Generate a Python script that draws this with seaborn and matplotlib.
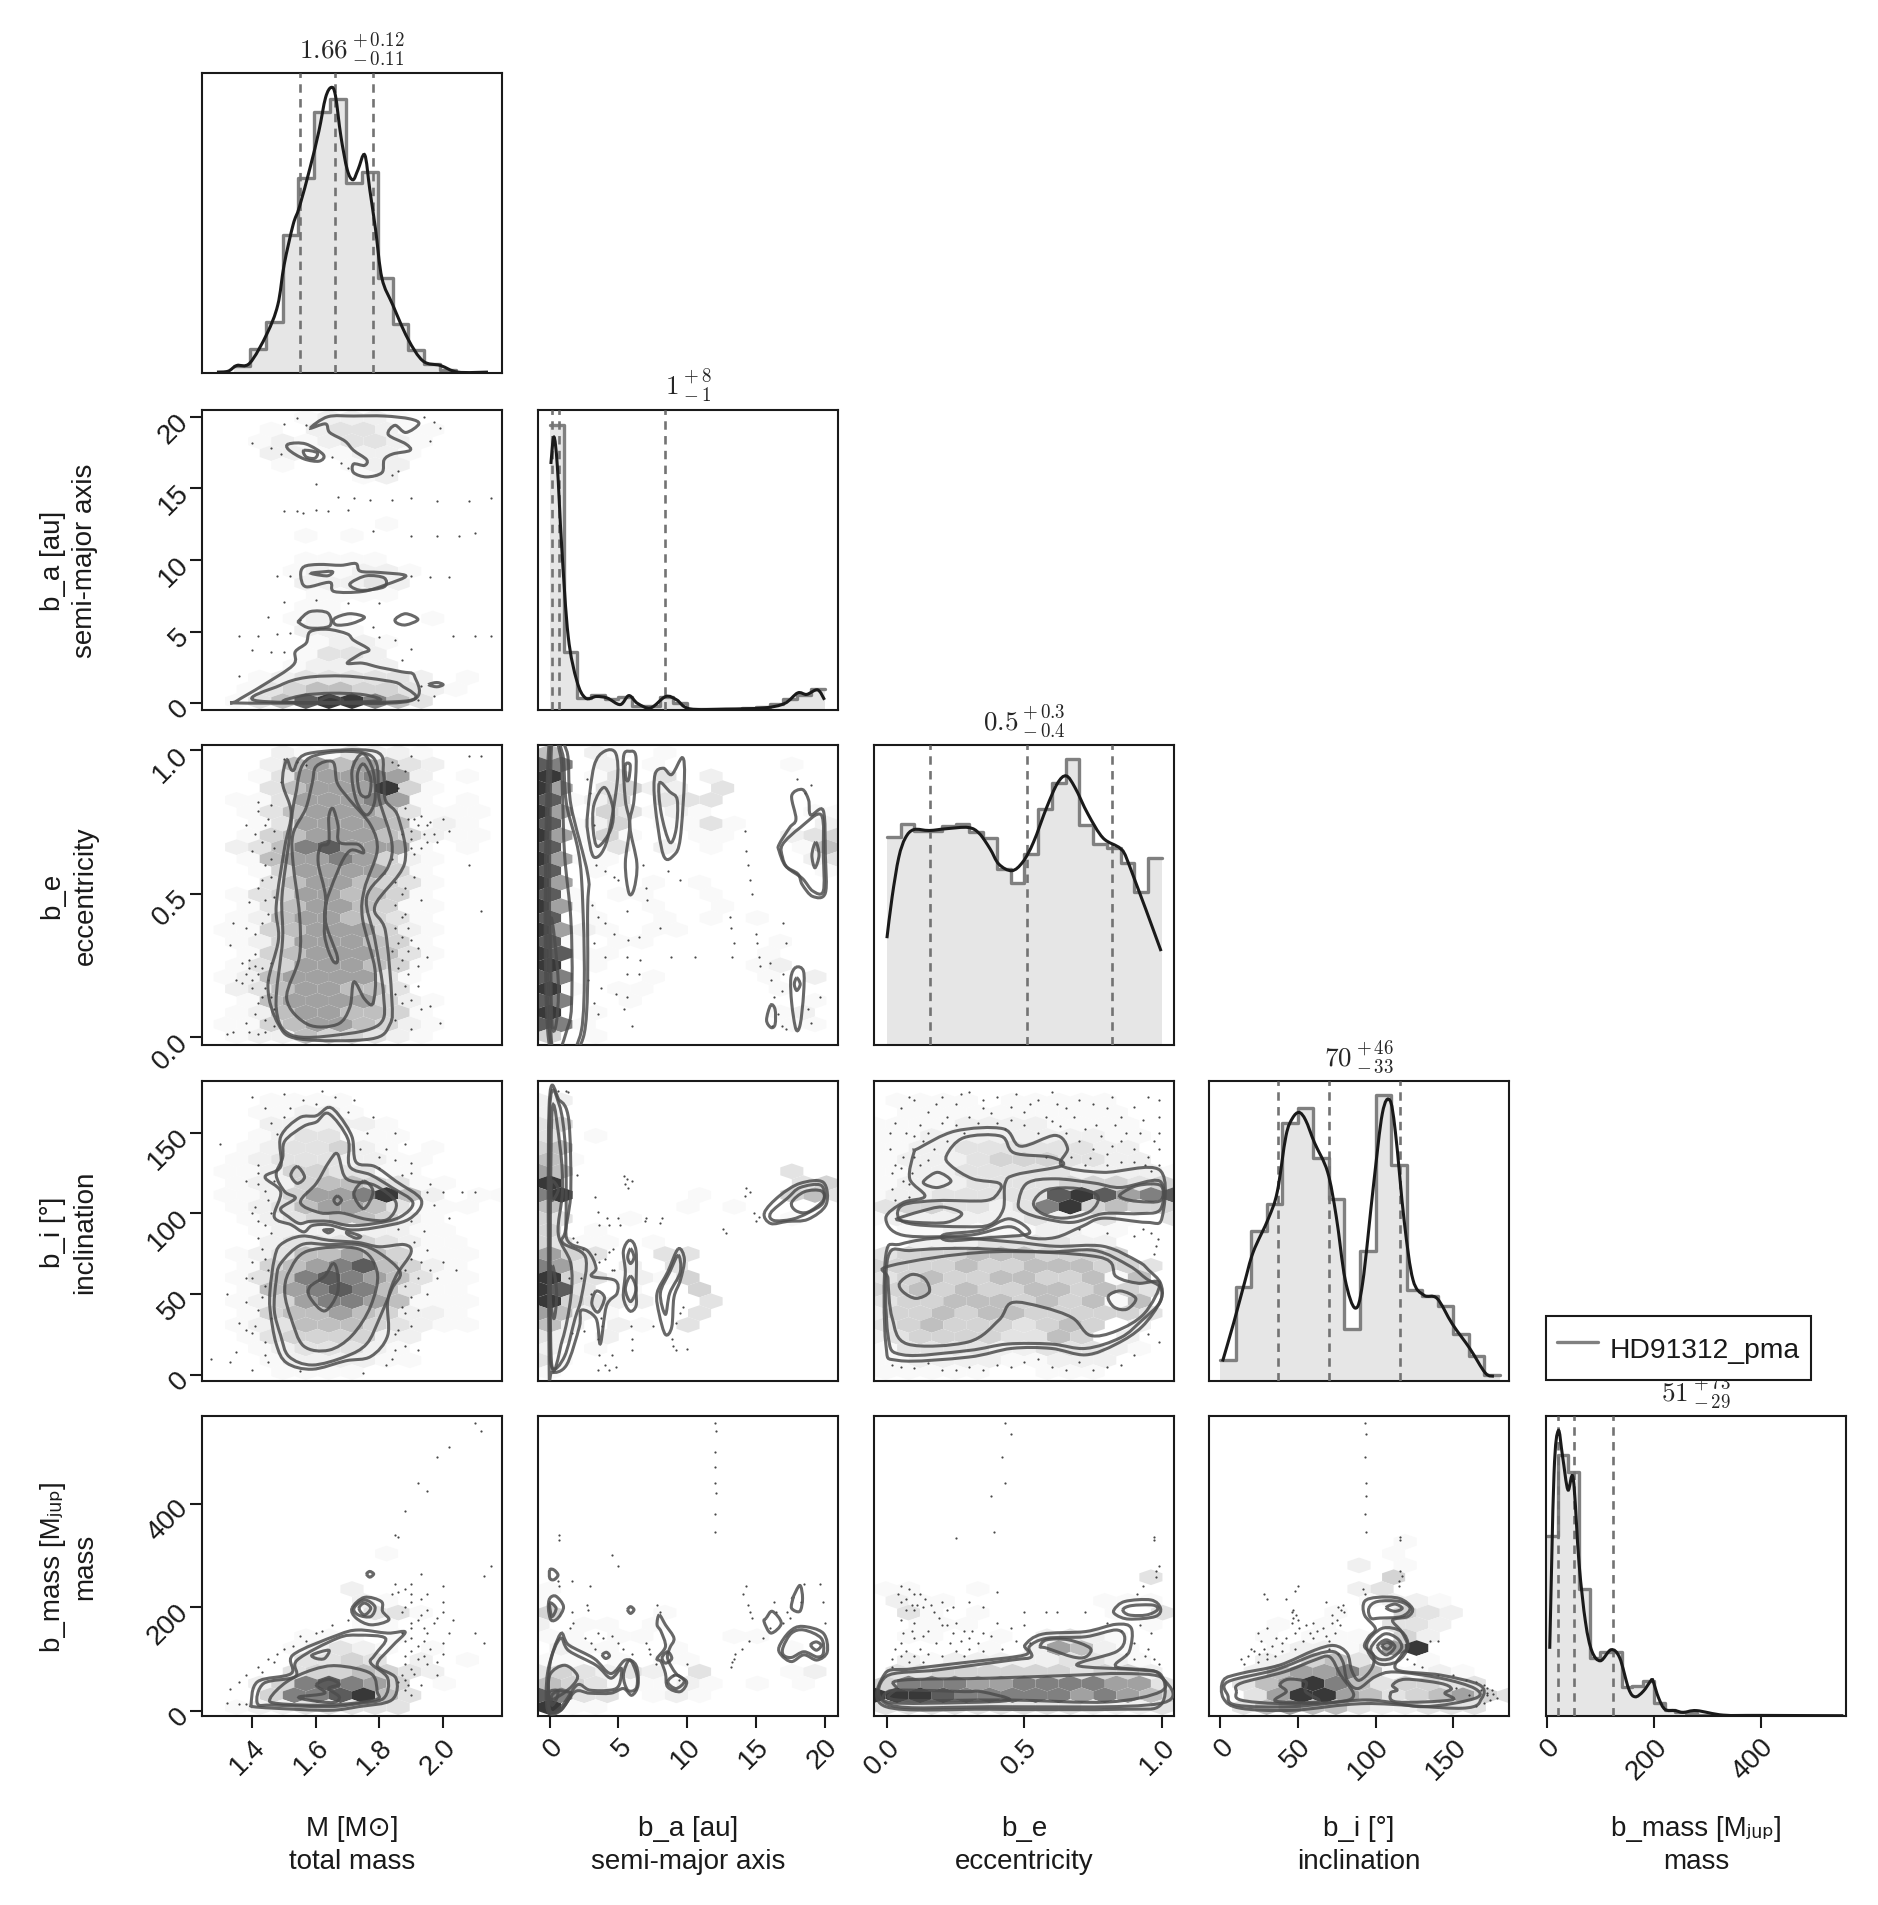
import numpy as np
import seaborn as sns
import matplotlib
matplotlib.use('Agg')
import matplotlib.pyplot as plt
from matplotlib.collections import PolyCollection
from matplotlib.lines import Line2D
from matplotlib.path import Path
from matplotlib.patches import PathPatch

# ---- 1D data: histogram edges, relative heights, smooth curve, quantiles
m_edges = [1.345,1.395,1.445,1.497,1.545,1.595,1.645,1.695,1.745,1.795,1.842,1.89,1.94,1.99,2.04]
m_hist = [.025,.08,.17,.46,.65,.87,.913,.634,.67,.316,.164,.078,.03,.01]
m_kde_x = [1.29,1.325,1.352,1.393,1.447,1.481,1.501,1.529,1.549,1.583,1.61,1.631,1.649,1.662,1.679,1.699,1.717,1.733,1.754,1.77,1.788,1.808,1.842,1.889,1.937,1.992,2.046,2.141]
m_kde_y = [.003,.006,.025,.033,.131,.227,.361,.494,.554,.687,.806,.918,.952,.925,.79,.678,.644,.678,.727,.61,.478,.316,.227,.115,.04,.025,.003,.003]
m_q = [1.55,1.66,1.78]

a_edges = list(range(21))
a_hist = [.95,.194,.04,.05,.037,.045,.015,.015,.045,.025,.003,.002,.002,.004,.006,.01,.02,.037,.05,.07]
a_kde_x = [0.08,.3,.55,.87,1.34,1.97,2.6,3.39,4.18,5.13,5.76,6.39,7.34,8.44,9.23,10.18,12.8,15.6,17.1,18.05,18.7,19.5,20.0]
a_kde_y = [.82,.91,.813,.543,.246,.097,.04,.045,.04,.018,.048,.022,.007,.045,.034,.004,.003,.007,.022,.057,.052,.067,.034]
a_q = [0.15,0.7,8.4]

e_edges = [0,.05,.1,.15,.2,.25,.3,.35,.4,.45,.5,.55,.6,.65,.7,.75,.8,.85,.9,.95,1.0]
e_hist = [.695,.738,.715,.715,.73,.737,.71,.69,.586,.54,.637,.788,.872,.955,.734,.669,.658,.608,.51,.625]
e_kde_x = [0,.019,.043,.067,.098,.154,.217,.296,.336,.375,.407,.454,.494,.533,.581,.62,.652,.684,.731,.786,.85,.881,.997]
e_kde_y = [.356,.494,.625,.69,.718,.715,.721,.725,.705,.654,.603,.581,.61,.676,.792,.872,.897,.858,.77,.69,.654,.6,.313]
e_q = [.155,.508,.817]

i_edges = list(range(0,190,10))
i_hist = [.07,.313,.5,.59,.861,.909,.742,.608,.173,.435,.954,.721,.303,.283,.25,.158,.083,.019]
i_kde_x = [1.4,8.5,15.5,21.2,31,36.7,42.3,46.5,50.8,55,60.7,69.1,74.7,80.4,86.9,91.7,98.7,104.4,109.2,112.8,118.5,124.1,131.2,139.7,149.5,160.8,170.7,176.3]
i_kde_y = [.065,.192,.326,.43,.542,.631,.817,.876,.895,.869,.794,.697,.548,.339,.243,.327,.653,.892,.936,.83,.532,.338,.286,.275,.19,.108,.027,.016]
i_q = [37,70,116]

mass_edges = [0,20,40,60,80,100,120,140,160,180,200,220,240,260,280,320]
mass_hist = [.6,.869,.813,.425,.194,.212,.212,.097,.10,.116,.045,.02,.015,.01,.003]
mass_kde_x = [5,13,21,29,39,49,60,72,84,100,120,136,153,165,180,195,198,209,221,240,255,280,330,400,555]
mass_kde_y = [.224,.806,.951,.866,.754,.791,.507,.313,.216,.184,.221,.194,.09,.064,.082,.119,.119,.06,.022,.018,.012,.018,.003,.002,.001]
mass_q = [21,51,123]

# ---- hex cell densities, one string per row, top row first
ma_hex = ["......1222211.....","....1.223322111...","...12.12233221....","...1221.12221.....","....11...1221.....",".........122......","","","",".......1..11......",".....11.11........","","......11111.......",".....12212221.....",".....12222321.....","......111111......",".....1111.........",".....1211.1..11...",".....22211........","......1222.1......","......13232.......",".....1222222......","...12233433322.1..","..12345554443211..","..135789997553...."]
me_hex = ["....2311232211....","...12565565532....","...13566567652.1..","...13566669941....","..113566667631.1..","..123565666531211.",".1.13566666541211.","..124566667542211.",".1235678866631.1..","..125667766421....","...14566666421....","...135666554311...","..134566655411....","..113566655411....",".1125566654311....",".1124566665421....","..124566665421....","..124566666531....","..134566665431....",".123566666531.....",".123566675531.....","..135667665421....","..125666655421....",".11245666554211...",".1122454543211...."]
ae_hex = ["57.21..1..........","87.22.1........1..","96.132.3..2.......","96.1342.2.13......","861242.3.33.....1.","96.1431.212.....11","861242.1.131....12","961141.2.121...234","86.131.2..1....145","961.1..1........23","87.1.1......1...11","96.1..1..1........","871.1.1...1.......","961...1....1......","87.1.1.1..1..1....","962.1.1.1.....1...","871.1.1.......1...","981.1..1.....11...","97.1.1.......12...","87.1..1......12.2.","971.1.1.......1.3.","87.1.1........1.1.","97.1..........12..","871...........111.","42.1.............."]
mi_hex = ["","....11111.........","...1122211........","...1222222.1......","...1233321111.....","..1123344221.1....",".1123333222111....",".112244433211.....",".11224456543211...",".11224666799521.11","..12335656532111..","..1223445544211...","...122222222111...","...1233434432111..","..12345566542111..","..13456778654211..","..13567887653311..","..13567887653111..","..12456777652111..","..12455665542211..","..12345555432211..","..12344444422.1...","...1233333211.....","...1122222211.....","....111111........"]
ai_hex = ["","22","23","34","34.1","45","541","65.............3","96...1.........354","79.2.....1.....453","55.......1.1...","43.1.1.1.......1","43.1","431.1.1","6543.1.3.3","7632.2.13.3","98431.21.4","9832.1.2.4","97432.2.1.3","65211..3.3","532.2.1.13","32..2..1","21.1.1","31.1","1"]
ei_hex = ["",".11111.11111111...",".11111111111111.1.","1111122222211111..","1112222222222211..","1122233333333222..","1122233444433322..","112223343333222221","122223333334344334","122333333358984678","334433323379945454","1222222223222331.3","..1122111122211...","..2222333323222...","334444555544444...","44444545454554543.","34454545454445156.","44554545454545443.","33445555445455153.","24445454545444143.","34454444434554.2..","2344444433454.32..","1233333222333321..","112222221122222...","1111111.1.1111...."]
em_hex = ["","","","","","","","","","","................1.","","","................3.","1.1..11.........1.",".2131........1.11.",".131..1.......1.43","..1211.1......1.1.","..11.1.11.23321...","......11.2565211..",".2212222222333211.",".3334444444434442.","467777666777776653","999887777777676654","333333333333322223"]
ii_hex = ["","","","","","","","","","","...........12.....","...........1......",".........2.1......","..........34......",".........23.......",".........1.2211...",".....1.1...4432...","...11.1....332....","...1.11121.452....","...1122212.69.1...","...22345432.71....","..235667752112.1..",".235699765345433..","..3569986543456643",".2356655532223333."]
mm_hex = ["","","","","","","","","","","","...........1......","","",".........2........",".........2.1......","........1.33.1....",".........1.1......","......1111.1......",".....1233221.1....",".....233343.22.1..",".....3444544321...","...2467887642.1...","...2477989653.....","..12243343331....."]
am_hex = ["","","","","","","","","","","","","","","1.................","1.................","42.....1..........","2.1.1.1...........","1.1.1.1....1.1....",".21.1...1.1....1..","1.1.11.1.1......2.","34332322.32....12.","56431111.21..1.1..","873.3.1.21........","9511.1............"]

# ---- density contours, closed loops in data units
ma_lines = [
 [(1.583,19.2),(1.638,20),(1.719,20.05),(1.815,20.05),(1.896,19.85),(1.924,19.5),(1.883,18.9),(1.849,19.4),(1.828,18.75),(1.883,18.1),(1.896,17.65),(1.842,17.4),(1.815,17.0),(1.808,16.1),(1.76,15.8),(1.719,16.1),(1.719,16.7),(1.753,16.6),(1.76,17.0),(1.719,17.65),(1.692,18.3),(1.644,18.9),(1.631,19.5)],
 [(1.515,18.1),(1.569,18.1),(1.624,17.35),(1.611,16.9),(1.563,17.06),(1.515,17.7)],
 [(1.563,17.65),(1.604,17.5),(1.597,17.1),(1.57,17.2)],
 [(1.563,9.53),(1.61,9.69),(1.679,9.63),(1.726,9.75),(1.74,9.22),(1.801,9.13),(1.883,8.9),(1.821,8.28),(1.747,7.8),(1.658,7.8),(1.644,8.44),(1.57,8.13),(1.553,8.9)],
 [(1.712,8.44),(1.76,8.9),(1.815,8.75),(1.815,8.13),(1.747,7.88),(1.712,8.13)],
 [(1.59,9.1),(1.651,9.2),(1.638,8.9),(1.597,9.0)],
 [(1.549,5.8),(1.583,6.4),(1.638,6.3),(1.644,5.4),(1.583,5.25),(1.549,5.6)],
 [(1.658,5.9),(1.706,6.25),(1.753,6.0),(1.712,5.56),(1.665,5.47)],
 [(1.851,5.9),(1.883,6.25),(1.921,5.85),(1.883,5.47),(1.855,5.6)],
 [(1.352,.16),(1.434,1.25),(1.529,2.66),(1.536,3.6),(1.57,4.2),(1.583,5),(1.638,5.16),(1.699,4.84),(1.719,4.4),(1.767,3.75),(1.74,3.44),(1.699,2.8),(1.747,2.8),(1.801,2.5),(1.869,2.2),(1.91,1.9),(1.896,.16),(1.583,.02),(1.352,.02)],
 [(1.42,.16),(1.488,1.25),(1.57,1.8),(1.692,1.9),(1.815,1.6),(1.869,1.25),(1.883,.16)],
 [(1.5,.1),(1.56,.55),(1.65,.7),(1.75,.6),(1.8,.2),(1.65,.05)],
 [(1.61,.1),(1.644,.47),(1.685,.2),(1.651,.02)],
 [(1.955,1.3),(1.98,1.45),(2.0,1.3),(1.98,1.15)],
]
me_lines = [
 [(1.509,.967),(1.529,.93),(1.575,.989),(1.786,.997),(1.813,.916),(1.819,.827),(1.859,.768),(1.879,.606),(1.786,.458),(1.819,.37),(1.839,.134),(1.833,.045),(1.773,-.006),(1.549,-.006),(1.483,.045),(1.45,.178),(1.483,.34),(1.476,.458),(1.503,.665),(1.523,.783),(1.496,.886)],
 [(1.536,.842),(1.582,.975),(1.773,.982),(1.8,.827),(1.839,.68),(1.826,.591),(1.76,.488),(1.786,.34),(1.813,.149),(1.8,.045),(1.668,.008),(1.523,.008),(1.476,.104),(1.496,.34),(1.494,.488),(1.516,.68)],
 [(1.602,.945),(1.654,.96),(1.668,.886),(1.707,.827),(1.773,.739),(1.793,.65),(1.753,.517),(1.747,.414),(1.786,.237),(1.78,.119),(1.753,.134),(1.72,.193),(1.707,.104),(1.668,.045),(1.575,.045),(1.509,.134),(1.549,.281),(1.549,.429),(1.529,.606),(1.529,.709),(1.569,.798),(1.589,.886)],
 [(1.641,.768),(1.654,.798),(1.67,.739),(1.674,.68),(1.734,.672),(1.75,.643),(1.707,.65),(1.668,.576),(1.628,.429),(1.668,.281),(1.654,.267),(1.628,.355),(1.631,.488),(1.608,.606),(1.615,.665),(1.641,.68)],
 [(1.747,.989),(1.78,.93),(1.786,.827),(1.76,.775),(1.727,.827),(1.714,.93)],
 [(1.75,.953),(1.773,.901),(1.767,.842),(1.74,.849),(1.731,.916)],
]
ae_lines = [
 [(-.09,1.0),(1.22,1.0),(1.53,.812),(2.76,.569),(2.76,.458),(2.45,.001),(-.09,-.008)],
 [(0,.99),(.92,.99),(1.22,.812),(2.3,.562),(2.3,.023),(0,.008)],
 [(.1,.985),(.77,.985),(.92,.856),(1.08,.635),(1.53,.414),(1.62,.193),(1.38,.045),(.1,.001)],
 [(.1,.414),(.62,.193),(.46,.045),(.15,.06)],
 [(2.76,.783),(3.22,.945),(3.98,.997),(4.81,.989),(4.9,.886),(4.13,.68),(3.22,.628),(2.76,.718)],
 [(3.22,.812),(3.98,.871),(4.6,.798),(4.44,.724),(3.5,.665),(3.16,.724)],
 [(5.36,.975),(5.82,.997),(6.28,.975),(6.13,.827),(5.82,.739),(6.34,.606),(6.13,.517),(5.76,.503),(5.5,.606),(5.82,.739),(5.5,.827)],
 [(5.5,.95),(5.85,.95),(5.75,.9),(5.55,.9)],
 [(7.66,.916),(8.27,.938),(8.88,.916),(9.65,.975),(9.8,.901),(9.5,.694),(9.04,.635),(8.27,.635),(7.66,.812)],
 [(7.97,.886),(8.73,.856),(9.28,.827),(9.19,.724),(8.73,.68),(8.1,.783)],
 [(16.69,.672),(17.46,.731),(17.92,.761),(17.61,.842),(18.38,.864),(18.84,.827),(18.99,.775),(19.91,.79),(20.06,.635),(20.06,.503),(19.14,.491),(18.38,.532),(18.07,.569),(17.15,.598),(16.69,.65)],
 [(16.94,.672),(18.23,.731),(19.76,.775),(19.91,.635),(19.91,.51),(19.14,.51),(18.38,.554),(17.3,.591),(16.94,.628)],
 [(19.36,.68),(19.6,.635),(19.3,.591),(19.08,.635)],
 [(17.92,.244),(18.47,.23),(18.47,.149),(18.23,.045),(17.92,.028),(17.61,.119),(17.55,.207)],
 [(16.08,.112),(16.4,.097),(16.4,.045),(16.1,.034),(15.78,.06)],
 [(17.98,.207),(18.23,.185),(17.98,.163),(17.8,.185)],
]
mi_lines = [
 [(1.641,165.7),(1.674,160.5),(1.714,147.4),(1.727,131.7),(1.786,129),(1.852,119.9),(1.932,108.1),(1.892,96.3),(1.786,91.1),(1.707,89.8),(1.641,92.9),(1.589,92.4),(1.562,88.5),(1.523,92.9),(1.47,97.7),(1.49,113.4),(1.441,122.5),(1.49,129),(1.49,147.4),(1.549,159.2),(1.602,160.5)],
 [(1.641,161.8),(1.701,146.1),(1.707,129),(1.773,123.8),(1.839,116),(1.905,106.8),(1.865,97.7),(1.786,93.7),(1.707,92.4),(1.641,95),(1.582,95),(1.549,93.7),(1.516,97.7),(1.49,102.9),(1.536,109.4),(1.503,113.4),(1.476,123.8),(1.496,134.3),(1.503,144.8),(1.562,153.9),(1.602,156.6)],
 [(1.668,136.9),(1.688,123.8),(1.714,119.9),(1.786,117.3),(1.852,106.8),(1.826,96.3),(1.76,96.3),(1.681,100.3),(1.615,100.3),(1.552,106.8),(1.602,118.6),(1.641,131.7)],
 [(1.542,129),(1.565,122.5),(1.542,118.6),(1.522,123.8)],
 [(1.751,119.9),(1.78,113.4),(1.751,102.9),(1.72,112)],
 [(1.668,110.7),(1.681,108.1),(1.668,105.5),(1.657,108.1)],
 [(1.47,71.5),(1.49,80.6),(1.556,85.9),(1.641,83.3),(1.734,81.9),(1.8,79.3),(1.879,80.6),(1.899,75.4),(1.852,61),(1.826,45.3),(1.826,24.3),(1.773,11.3),(1.694,8.6),(1.589,3.4),(1.509,7.3),(1.476,19.1),(1.457,40),(1.457,53.1)],
 [(1.49,68.9),(1.556,80.6),(1.641,80.6),(1.734,80.6),(1.8,75.4),(1.865,63.6),(1.839,53.1),(1.8,34.8),(1.76,19.1),(1.694,11.3),(1.589,6),(1.516,11.3),(1.49,24.3),(1.47,40),(1.476,58.4)],
 [(1.516,63.6),(1.575,76.7),(1.734,78),(1.793,63.6),(1.773,42.7),(1.714,24.3),(1.641,15.2),(1.562,17.8),(1.523,34.8),(1.503,50.5)],
 [(1.654,68.9),(1.668,63.6),(1.668,50.5),(1.628,39.5),(1.582,47.9),(1.582,54.5),(1.628,61)],
 [(1.628,89.8),(1.654,89.8),(1.641,87.9),(1.628,89)],
 [(1.701,88.5),(1.74,85.9),(1.727,84.6),(1.7,87)],
]
ai_lines = [
 [(-.05,166),(.7,170),(1.38,157.9),(1.53,113.4),(1.22,84.6),(2.76,76.7),(3.37,66.2),(3.06,61),(4.75,58.4),(4.9,50.5),(4.13,42.7),(3.68,19.1),(3.37,34.8),(2.3,40),(2.15,29.6),(1.22,6),(.15,1.5),(-.05,8.6)],
 [(0,165),(.7,167),(1.14,139.5),(1.17,92.4),(.92,82),(2.6,72.8),(2.3,47.9),(1.84,34.8),(1.07,11.3),(.15,4.7),(0,34.8)],
 [(.15,160.5),(.77,139.5),(.92,113.4),(.62,87.2),(1.53,68.9),(1.53,47.9),(.92,21.7),(.1,11.3)],
 [(.15,119.9),(.62,114.7),(.15,108.1)],
 [(.2,67.5),(.5,50.5),(.3,34.8),(0,50.5)],
 [(3.37,51.8),(3.98,47.9),(3.52,38.8),(3.06,44)],
 [(5.82,83.3),(6.28,76.7),(6.28,53.1),(6.28,42.7),(5.82,39.5),(5.36,47.9),(5.5,63.6),(5.36,76.7)],
 [(5.88,78),(6.13,72.8),(5.88,68.9),(5.67,72.8)],
 [(5.88,61),(6.28,53.1),(5.88,45.3),(5.5,53.1)],
 [(9.35,78),(9.8,71.5),(9.5,58.4),(9.04,47.9),(8.88,29.6),(8.42,24.9),(7.97,37.4),(7.81,50.5),(8.58,63.6)],
 [(9.35,74),(9.5,63.6),(8.73,50.5),(8.42,37.4),(8.05,50.5),(8.73,63.6)],
 [(15.62,100.3),(16.7,110.7),(18.23,118.6),(19.91,119.2),(20.12,105.5),(18.8,96.3),(17.3,95),(16.08,93.7)],
 [(16.08,100.3),(17.3,109.4),(18.23,116),(19.76,117.3),(19.91,106.8),(18.8,100.3),(17.61,96.3),(16.3,95.6)],
 [(17.61,106.8),(18.54,113.4),(19.76,113.9),(19.91,108.1),(18.8,100.8),(17.92,101.6)],
]
ei_lines = [
 [(.098,137.5),(.114,140.2),(.249,151),(.423,152.4),(.486,141.6),(.612,148.3),(.657,140.2),(.636,129.5),(.786,125.4),(.992,126.8),(1.0,97),(.944,94.4),(.786,97),(.707,91.7),(.612,85),(.518,85),(.446,91.7),(.296,86.4),(.059,86.4),(-.004,97),(.059,106.6),(.138,110.6),(.083,121.4)],
 [(.217,136),(.28,146.9),(.415,147.8),(.462,137.5),(.597,134.8),(.636,129.5),(.47,124),(.43,118.7),(.423,102.5),(.375,93),(.28,91.7),(.106,93),(.043,97),(.059,105.2),(.185,107.9),(.359,107.9),(.407,113.3),(.407,118.7),(.312,121.4),(.233,129.5)],
 [(.138,120.8),(.185,125.4),(.233,120),(.185,116),(.138,118)],
 [(.043,97),(.122,101.2),(.201,103.9),(.272,99.8),(.217,94.4),(.106,94.4),(.043,95.8)],
 [(.478,106.6),(.51,118.7),(.612,121.4),(.755,118.7),(.85,116),(.992,120),(.995,102.5),(.913,99.8),(.786,99.8),(.675,94.4),(.565,97),(.494,101.2)],
 [(.533,106.6),(.581,114.6),(.691,115.4),(.767,110.6),(.739,101.2),(.644,97),(.565,99.8)],
 [(.85,111.9),(.913,117.3),(.995,117.3),(.995,107.9),(.913,107.4),(.858,109.3)],
 [(.209,86.9),(.343,89.6),(.446,96.6),(.518,87.7),(.375,85),(.224,83.1)],
 [(-.004,74.2),(.051,81),(.217,85),(.454,82.3),(.612,79.6),(.786,79.6),(.913,70.2),(.952,64.8),(.995,56.7),(.995,45.9),(.928,29.8),(.834,19),(.723,12.3),(.597,16.3),(.454,16.3),(.296,10.9),(.043,8.8),(-.004,19)],
 [(.004,72.9),(.09,77),(.296,78.3),(.581,76.1),(.755,77),(.881,67.5),(.944,59.4),(.995,54),(.992,44.6),(.928,33.8),(.85,23),(.723,16.3),(.597,19),(.438,19),(.296,15),(.059,12.3),(.004,24.4)],
 [(.012,67.5),(.375,76.1),(.771,72.9),(.834,60.8),(.913,56.7),(.992,56.7),(.936,37.9),(.834,27.1),(.739,24.4),(.675,35.2),(.565,41.9),(.454,44.6),(.407,33.8),(.296,20.3),(.075,19),(.019,35.2),(.004,59.4)],
 [(.046,56.7),(.09,62.1),(.138,59.4),(.154,51.3),(.106,47.3),(.059,51.3)],
 [(.805,48.6),(.85,51.9),(.905,47.3),(.873,40.6),(.826,41.9)],
]
em_lines = [
 [(-.007,72),(.09,81),(.296,94),(.502,108),(.502,127),(.565,148),(.723,153),(.834,167),(.889,159),(.881,114),(.834,85),(.992,72),(.995,11),(.85,3),(.375,3),(-.004,8)],
 [(-.004,66),(.185,79),(.454,98),(.525,104),(.518,124),(.581,140),(.723,143),(.834,156),(.865,140),(.834,114),(.691,88),(.913,79),(.992,69),(.992,14),(.375,8),(.012,11)],
 [(.035,43),(.051,59),(.375,63),(.691,69),(.85,72),(.992,66),(.995,37),(.802,17),(.438,21),(.035,21)],
 [(.003,37),(.09,40),(.28,37),(.343,37),(.446,21),(.28,16),(.011,16)],
 [(.557,124),(.581,137),(.66,137),(.739,121),(.723,104),(.676,104),(.581,121)],
 [(.826,195),(.865,211),(.96,214),(.995,198),(.976,182),(.881,177),(.834,185)],
 [(.858,195),(.889,203),(.968,204),(.984,195),(.944,185),(.881,185)],
]
im_lines = [
 [(2,59),(13,72),(38,88),(60.7,117),(73.3,126),(81.7,111),(84.5,79),(88.7,59),(94.3,69),(98.5,88),(98.5,108),(92.9,124),(95.7,143),(99.9,159),(92.9,185),(92.9,211),(101.3,219),(115.3,217),(123.7,198),(120.9,182),(111,175),(116.7,153),(120.9,124),(116.7,108),(113.9,79),(141.9,69),(167,50),(168.4,24),(155.8,5),(94.3,14),(46.7,1),(13,5),(2,24)],
 [(4.8,56),(35.5,79),(60.7,108),(73.3,114),(78.9,95),(81.7,59),(88.7,43),(99.9,66),(112.5,75),(141.9,63),(164,43),(164,24),(130.7,8),(94.3,21),(46.7,8),(10.4,11),(4.8,30)],
 [(10.4,37),(13,53),(41,75),(60.7,98),(70.5,104),(77.5,69),(85.9,30),(74.7,17),(38.3,14),(13,21)],
 [(111,50),(119.5,61),(141.9,53),(148.9,43),(144.7,34),(148.9,21),(113.9,17),(109.7,34),(113.9,40)],
 [(38.3,50),(43.9,61),(55,56),(55,37),(63.5,21),(57.9,16),(35.5,19),(42.5,37)],
 [(94.3,127),(104.1,159),(116.7,153),(120.9,124),(113.9,95),(101.3,92)],
 [(97,121),(105.5,148),(113.9,140),(116.7,121),(109.7,101),(101.3,101)],
 [(101.3,124),(106.9,137),(112.5,124),(106.9,108)],
 [(104.1,126),(107.4,132),(110.2,126),(107.4,119)],
 [(95.7,198),(101.3,211),(115.3,211),(122.3,198),(116.7,182),(102.7,179),(97,179)],
 [(106.9,199),(112.5,206),(117.2,198),(112.5,192)],
]
mm_lines = [
 [(1.397,11),(1.417,56),(1.523,72),(1.529,108),(1.668,146),(1.734,156),(1.826,150),(1.881,152),(1.839,124),(1.793,88),(1.852,63),(1.839,21),(1.734,8),(1.641,1),(1.47,5),(1.404,8)],
 [(1.417,14),(1.437,53),(1.536,66),(1.542,98),(1.668,140),(1.734,146),(1.819,140),(1.786,108),(1.773,92),(1.826,63),(1.813,24),(1.734,14),(1.641,8),(1.47,11)],
 [(1.457,24),(1.509,56),(1.589,79),(1.668,87),(1.773,72),(1.793,37),(1.786,21),(1.641,11),(1.483,14)],
 [(1.602,50),(1.641,61),(1.674,51),(1.641,43),(1.674,27),(1.654,16),(1.575,21),(1.549,27),(1.628,34)],
 [(1.589,108),(1.641,117),(1.628,101),(1.602,101)],
 [(1.714,198),(1.753,219),(1.806,211),(1.81,192),(1.829,175),(1.773,166),(1.727,179)],
 [(1.72,198),(1.753,214),(1.786,201),(1.773,182),(1.734,185)],
 [(1.736,198),(1.753,208),(1.773,198),(1.753,185)],
 [(1.76,264),(1.77,269),(1.782,264),(1.77,258)],
]
am_lines = [
 [(-.15,75),(.77,148),(1.38,127),(3.22,101),(4.44,72),(5.5,98),(6.28,88),(6.43,50),(5.97,30),(5.36,43),(4.44,34),(2.91,34),(1.84,37),(.77,0),(-.15,0)],
 [(0,88),(.77,140),(1.38,116),(3.37,88),(4.44,63),(5.2,82),(5.05,50),(4.44,40),(2.91,40),(2,50),(.92,11),(0,1)],
 [(5.36,69),(5.82,98),(6.34,69),(6.28,43),(5.67,40)],
 [(0,69),(1.07,88),(2,69),(1.7,50),(.77,30),(0,24)],
 [(0,37),(1.2,37),(1.53,30),(.77,1),(0,0)],
 [(.15,30),(.6,37),(.46,21),(.15,11)],
 [(0,272),(.3,272),(.6,262),(.3,253),(0,256)],
 [(0,217),(.46,221),(1,201),(.6,179),(.1,175),(-.1,198)],
 [(0,208),(.46,198),(.15,182)],
 [(5.67,195),(5.88,201),(6.13,195),(5.88,188)],
 [(3.83,108),(4.13,113),(4.35,106),(4.07,101)],
 [(7.97,185),(8.42,166),(9.04,140),(8.73,121),(8.58,101),(9.19,72),(9.96,56),(9.5,37),(8.58,46),(8.42,72),(8.1,95),(7.81,101),(8.42,124),(8.1,153),(7.81,166)],
 [(8.58,114),(8.88,101),(8.42,92),(8.18,103)],
 [(8.58,56),(9.19,69),(9.8,57),(9.19,43)],
 [(15.76,179),(16.2,192),(16.85,169),(16.1,150),(15.6,172)],
 [(17.67,217),(18.2,242),(18.4,217),(18.2,192),(17.6,198),(17.7,217)],
 [(16.7,124),(17.46,153),(18.38,163),(19.9,150),(20.2,114),(19.45,98),(18.5,108),(17.6,95),(16.84,108)],
 [(17,124),(17.6,150),(18.5,156),(19.76,140),(19.91,111),(19.45,104),(18.5,114),(17.6,103),(17,108)],
 [(18.99,127),(19.4,133),(19.76,126),(19.4,117)],
]

# ---- loose samples outside the contours
ma_dots = [(1.5,19.5),(1.54,19.9),(1.57,19.4),(1.94,20),(1.97,19.6),(1.99,19.2),(1.96,18.3),(1.4,18.2),(1.46,17.8),(1.49,17.4),(1.65,17.2),(1.68,16.8),(1.7,16.4),(1.86,16.2),(1.84,15.9),(1.6,15.3),(1.67,14.4),(1.72,14.3),(1.77,14.2),(1.84,14.2),(1.9,14.3),(1.98,14.1),(2.08,14.1),(2.15,14.3),(1.5,13.4),(1.54,13.4),(1.56,13.3),(1.6,13.5),(1.64,13.4),(1.7,13.5),(1.78,12),(1.9,11.7),(1.98,11.7),(2.05,11.7),(2.1,11.9),(1.48,8.9),(1.52,8.9),(1.9,8.9),(1.96,8.8),(2.02,8.8),(1.5,7.1),(1.6,7.2),(1.7,7),(1.8,7),(1.55,5.8),(1.45,6),(1.78,5.3),(1.36,4.7),(1.42,4.7),(1.48,4.8),(1.52,4.9),(2.03,4.7),(2.1,4.7),(2.15,4.7),(1.4,3.7),(1.46,3.6),(1.5,3.6),(1.8,4.6),(1.85,4.4),(1.9,3.8),(1.87,3),(1.36,1.9),(1.93,1.2),(1.92,.2),(1.97,.5)]
me_dots = [(1.5,.97),(1.54,.96),(1.57,.95),(1.49,.89),(1.84,.96),(1.86,.95),(1.88,.93),(1.9,.98),(2.08,.98),(2.12,.98),(1.86,.87),(1.88,.8),(1.91,.76),(1.93,.77),(1.95,.74),(1.97,.71),(2,.76),(2.02,.72),(1.38,.74),(1.42,.82),(1.45,.76),(1.4,.65),(1.43,.68),(1.46,.62),(1.46,.56),(1.42,.52),(1.44,.48),(1.39,.47),(1.85,.54),(1.88,.52),(1.91,.56),(1.93,.48),(2.08,.6),(1.88,.43),(1.85,.38),(1.9,.34),(1.92,.31),(2.12,.44),(1.34,.4),(1.38,.38),(1.41,.36),(1.33,.32),(1.37,.26),(1.39,.24),(1.42,.22),(1.45,.2),(1.4,.17),(1.43,.14),(1.46,.26),(1.84,.3),(1.87,.27),(1.89,.22),(1.92,.18),(1.96,.11),(1.99,.05),(1.87,.12),(1.85,.06),(1.9,.03),(1.44,.02),(1.34,.02),(1.38,.05),(1.41,.08),(1.47,.1),(1.32,.01),(1.92,.25),(1.95,.28),(1.87,.5),(1.84,.62),(1.9,.66),(1.95,.68),(1.35,.2),(1.41,.29),(1.43,.4),(1.87,.35),
 (1.42,.79),(1.44,.74),(1.46,.81),(1.47,.72),(1.41,.71),(1.44,.6),(1.47,.66),(1.43,.55),(1.47,.49),(1.45,.43),(1.9,.72),(1.92,.74),(1.94,.71),(1.9,.69),(1.93,.66),(1.96,.75),(1.98,.68),(1.89,.76),(1.87,.71),(1.91,.64),(1.85,.46),(1.87,.42),(1.89,.38),(1.86,.33),(1.89,.3),(1.86,.24),(1.88,.18),(1.85,.15),(1.9,.13),(1.93,.1),(1.39,.27),(1.41,.25),(1.38,.22),(1.43,.24),(1.4,.2),(1.37,.19),(1.44,.17),(1.42,.12),(1.46,.14),(1.44,.06),(1.47,.04),(1.39,.02),(1.42,.01)]
ae_dots = [(3.2,.74),(3.4,.6),(4,.58),(4.7,.56),(2.7,.9),(2.9,.85),(5,.55),(6.8,.6),(7,.52),(7.1,.48),(8.6,.58),(9.5,.55),(14.2,.72),(14.3,.65),(14.6,.55),(14.4,.6),(14.7,.5),(13.1,.42),(13.2,.38),(13.4,.33),(13.3,.28),(3.1,.46),(3.5,.42),(4,.4),(3.2,.33),(4,.28),(4.7,.36),(5.6,.44),(5.7,.34),(5.6,.28),(5.6,.22),(6.5,.35),(6.6,.27),(6.5,.22),(8,.38),(8.8,.28),(10.6,.28),(15,.36),(15.1,.33),(15.2,.28),(15.3,.25),(16,.26),(16.1,.2),(16.3,.14),(17,.4),(17.2,.33),(17,.22),(16.9,.16),(16.6,.08),(16.2,.04),(17.2,.03),(18.8,.1),(19,.05),(19.7,.14),(3.2,.12),(3.7,.17),(3.5,.08),(5.4,.1),(4.8,.15),(5.6,.14),(2.8,.2),(6,.04),(18,.9),(19,.88),(18.6,.85),(16.9,.04)]
mi_dots = [(1.4,172),(1.5,174),(1.52,165),(1.46,156),(1.48,149),(1.6,168),(1.66,172),(1.72,170),(1.78,160),(1.85,150),(1.8,135),(1.88,143),(1.9,131),(1.87,124),(1.42,130),(1.42,118),(1.45,108),(1.38,120),(1.3,143),(1.95,113),(2,113),(2.06,113),(2.1,113),(1.97,105),(2.02,97),(1.9,95),(1.86,90),(1.94,89),(1.95,77),(2,70),(2.04,65),(1.9,72),(1.92,60),(1.95,50),(1.88,55),(1.87,42),(1.9,30),(1.85,25),(1.85,15),(1.92,15),(1.42,85),(1.44,72),(1.4,60),(1.44,55),(1.38,45),(1.36,32),(1.42,40),(1.32,50),(1.4,26),(1.44,20),(1.35,14),(1.33,8),(1.45,8),(1.55,2),(1.27,10),(1.4,3),(1.75,1),(1.82,6),(1.46,100),(1.42,95),(1.88,65),(1.98,60),(1.4,100),
 (1.44,165),(1.5,160),(1.56,170),(1.62,176),(1.7,163),(1.76,150),(1.74,140),(1.82,140),(1.85,133),(1.8,128),(1.9,125),(1.96,118),(1.42,125),(1.44,114),(1.47,120),(1.41,104),(1.44,93),(1.46,88),(1.43,78),(1.45,65),(1.43,48),(1.46,35),(1.41,30),(1.38,60),(1.4,70),(1.38,28),(1.44,12),(1.91,82),(1.93,70),(1.96,65),(1.9,48),(1.88,38),(1.92,40),(1.86,28),(1.88,18),(1.84,10)]
ai_dots = [(.6,176),(1.2,176),(1.3,175),(5.5,118),(5.6,121),(5.4,123),(6,120),(5.7,116),(2,124),(3.3,110),(3.5,101),(3.6,93),(4.2,97),(4.3,93),(5,97),(5.1,93),(6.9,95),(7,97),(8,94),(8.2,97),(14.3,116),(14.6,113),(14.2,111),(15,95),(15.2,98),(14.9,100),(12.6,90),(12.8,88),(2.3,60),(3.3,75),(3.6,70),(4,72),(4.3,76),(4.5,65),(4.7,65),(4.6,78),(3,50),(3.7,35),(3.8,30),(3.5,22),(3.6,12),(4,6),(4.5,12),(4.8,5),(5.9,30),(6,22),(6,15),(4.3,3),(3.5,3),(8.9,22),(9,18),(9.2,15),(10,16),(9.2,32),(9.5,38),(9.7,42),(1.7,85),(2,82),(2.4,78),(1.4,60),(2.5,27),(1.6,26),(7.5,30)]
ei_dots = [(.01,150),(.05,165),(.1,170),(.15,163),(.2,172),(.25,168),(.3,175),(.35,170),(.4,172),(.45,166),(.5,163),(.55,170),(.6,175),(.65,165),(.7,170),(.75,168),(.8,165),(.85,160),(.9,166),(.95,172),(.99,170),(.99,160),(.99,150),(.99,140),(.99,130),(.01,140),(.03,130),(.06,135),(.09,125),(.06,120),(.02,115),(.08,110),(.1,148),(.15,150),(.2,156),(.25,155),(.3,160),(.4,156),(.45,158),(.5,155),(.55,150),(.6,157),(.65,150),(.7,145),(.75,140),(.8,137),(.85,145),(.9,140),(.95,135),(.94,130),(.72,130),(.8,130),(.85,132),(.67,135),(.92,150),(.76,155),(.35,165),(.22,145),(.17,140),(.12,130),(.15,133),(.98,80),(.97,75),(.93,90),(.9,86),(.8,88),(.7,90),(.96,88),(.985,84),(.99,20),(.95,25),(.9,12),(.85,6),(.8,5),(.7,8),(.6,5),(.55,10),(.5,8),(.4,6),(.3,5),(.2,3),(.1,4),(.05,5),(.02,6),(.15,7),(.25,3),(.35,3),(.45,5),(.65,3),(.75,3),
 (.03,156),(.07,150),(.12,155),(.18,168),(.22,160),(.28,150),(.33,156),(.38,162),(.43,152),(.47,174),(.52,168),(.58,160),(.63,154),(.68,160),(.72,152),(.78,148),(.83,155),(.87,150),(.93,158),(.97,145),(.02,125),(.05,128),(.08,118),(.03,108),(.1,135),(.13,145),(.9,132),(.96,126),(.74,134),(.82,142),(.58,135),(.08,172),(.27,174),(.62,168),(.82,172)]
em_dots = [(.43,555),(.45,535),(.42,490),(.43,440),(.38,415),(.39,345),(.25,333),(.97,335),(.97,330),(.98,270),(.98,258),(.99,280),(.93,240),(.91,225),(.05,240),(.08,235),(.1,225),(.12,225),(.14,215),(.05,210),(.07,195),(.1,195),(.11,205),(.2,210),(.22,195),(.24,200),(.3,210),(.35,200),(.4,230),(.5,190),(.58,190),(.62,190),(.72,190),(.8,170),(.85,155),(.9,130),(.95,120),(.97,100),(.05,175),(.1,170),(.15,155),(.2,165),(.25,170),(.28,155),(.3,140),(.35,150),(.4,170),(.45,160),(.5,165),(.05,130),(.1,140),(.12,120),(.18,130),(.25,115),(.3,120),(.35,115),(.02,100),(.05,105),(.08,95),(.13,95),(.2,105),(.02,85),(.87,110),(.9,100),(.94,105),(.99,90),
 (.04,225),(.07,215),(.09,205),(.13,200),(.16,205),(.17,190),(.19,180),(.22,165),(.24,150),(.27,135),(.31,155),(.33,130),(.38,145),(.42,120),(.47,135),(.52,130),(.06,150),(.09,155),(.13,145),(.03,120),(.07,115),(.15,110),(.23,130),(.1,105),(.28,105),(.92,165),(.96,150)]
im_dots = [(93,555),(94,535),(93,490),(94,440),(94,415),(93,380),(94,345),(116,335),(116,330),(116,270),(117,260),(115,250),(92,235),(93,225),(115,240),(50,240),(48,232),(28,225),(30,215),(42,215),(68,210),(76,200),(78,195),(80,190),(46,190),(47,180),(50,175),(55,165),(60,170),(66,160),(72,170),(74,150),(30,160),(24,150),(26,135),(36,140),(40,130),(48,150),(53,135),(60,140),(20,120),(22,115),(30,110),(35,105),(13,100),(15,90),(24,95),(120,100),(125,90),(130,85),(140,70),(150,70),(158,60),(165,55),(170,50),(172,45),(175,40),(172,30),(178,25),(174,20),(170,15),(165,10),(140,135),(135,135),(70,120),(76,110),
 (47,195),(49,185),(46,170),(51,160),(58,150),(62,155),(68,145),(72,185),(75,175),(79,205),(77,165),(70,135),(42,140),(33,125),(28,120),(40,115),(48,120),(25,110),(18,105),(30,100),(172,35),(168,40),(160,30),(176,32),(152,45)]
mm_dots = [(2.1,555),(2.12,540),(2.02,510),(1.98,490),(1.92,440),(1.95,425),(1.88,385),(1.85,340),(1.86,335),(2.15,280),(2.13,260),(1.93,265),(2.0,240),(1.9,245),(1.85,245),(1.88,235),(1.84,225),(1.95,225),(2.0,210),(1.9,210),(1.95,195),(2.0,190),(1.87,190),(1.92,175),(1.97,170),(2.03,175),(1.9,160),(1.95,150),(2.02,150),(2.1,150),(2.13,130),(1.88,135),(1.92,125),(1.96,120),(2.0,110),(1.88,105),(1.92,100),(1.95,90),(1.9,80),(1.87,70),(1.98,70),(1.93,50),(1.88,40),(1.9,30),(1.55,145),(1.6,150),(1.65,165),(1.7,175),(1.62,155),(1.5,120),(1.48,110),(1.45,100),(1.42,85),(1.38,70),(1.36,55),(1.33,42),(1.32,15),(1.36,14),(1.38,14),
 (1.86,230),(1.9,225),(1.93,215),(1.88,200),(1.93,185),(1.98,180),(1.9,170),(1.94,160),(1.87,150),(1.9,140),(1.94,135),(2.0,130),(1.9,115),(1.94,105),(1.98,95),(1.88,90),(1.91,72),(1.86,55),(1.89,50),(1.88,60),(1.57,135),(1.53,125),(1.47,95),(1.43,75)]
am_dots = [(.7,340),(.7,330),(12,555),(12.1,540),(12,500),(12,470),(12,440),(12.1,420),(12,380),(12,345),(5,280),(4.5,300),(2.9,240),(1.6,250),(.7,240),(.6,250),(2.7,205),(2.8,195),(1.6,190),(1.7,170),(1.5,160),(3.5,150),(3.9,140),(4.5,145),(5,130),(5.3,120),(6,110),(2.6,140),(3,130),(3.3,120),(7,130),(7.2,120),(7.3,110),(7.7,90),(8,190),(7.8,205),(14.3,240),(14.1,225),(14.4,205),(14.6,190),(14.7,180),(15.5,140),(16,160),(16.3,210),(17,170),(17.5,180),(18.3,210),(18.5,245),(19.7,245),(19.9,210),(20,170),(13.5,110),(13.4,100),(13.3,95),(13.2,85),(14,120),(14.5,135),(9,70),(9.4,60),(10,90),(17.3,190),(16.5,190)]

# ---- axis limits and tick positions
x_limits = {'M':(1.243,2.185),'a':(-.857,20.98),'e':(-.047,1.044),'i':(-7.3,186),'mass':(-2,560)}
y_limits = {'a':(-.47,20.47),'e':(-.027,1.019),'i':(-3.9,182),'mass':(-10,569)}
ticks = {'M':[1.4,1.6,1.8,2.0],'a':[0,5,10,15,20],'e':[0,.5,1],'i':[0,50,100,150],'mass':[0,200,400]}
tick_labels = {'M':['1.4','1.6','1.8','2.0'],'a':['0','5','10','15','20'],'e':['0.0','0.5','1.0'],'i':['0','50','100','150'],'mass':['0','200','400']}
x_names = ['M [M\u2299]\ntotal mass','b_a [au]\nsemi-major axis','b_e\neccentricity','b_i [\u00b0]\ninclination','b_mass [M\u2c7c\u1d64\u209a]\nmass']
y_names = {'a':'b_a [au]\nsemi-major axis','e':'b_e\neccentricity','i':'b_i [\u00b0]\ninclination','mass':'b_mass [M\u2c7c\u1d64\u209a]\nmass'}
titles = [r'$1.66\,^{+\,0.12}_{-\,0.11}$',r'$1\,^{+\,8}_{-\,1}$',r'$0.5\,^{+\,0.3}_{-\,0.4}$',r'$70\,^{+\,46}_{-\,33}$',r'$51\,^{+\,73}_{-\,29}$']
variables = ['M','a','e','i','mass']
hex_grays = ['1','.975','.94','.89','.83','.75','.63','.5','.36','.22']

sns.set_theme(style='ticks')
plt.rcParams['font.family'] = ['Liberation Sans','DejaVu Sans']
plt.rcParams['mathtext.fontset'] = 'cm'
plt.rcParams['axes.linewidth'] = 1.5

W, H = 1878, 1906
fig = plt.figure(figsize=(W/100, H/100), dpi=100, facecolor='white')
col_left = [202,538,874,1209,1546]
row_top = [74,411,746,1082,1417]
side = 300
FS = 20

def make_axes(r, c):
    ax = fig.add_axes([col_left[c]/W, 1-(row_top[r]+side)/H, side/W, side/H])
    ax.tick_params(length=8.5, width=1.5, color='k', labelsize=FS, labelcolor='k', pad=4)
    for s in ax.spines.values():
        s.set_color('k'); s.set_linewidth(1.5)
    return ax

def smooth_path(pts, closed):
    # bezier through the read points, so lines are not drawn with corners
    p = np.array(pts, dtype=float)
    n = len(p)
    verts, codes = [p[0]], [Path.MOVETO]
    for k in range(n if closed else n-1):
        if closed:
            p0, p1, p2, p3 = p[(k-1)%n], p[k], p[(k+1)%n], p[(k+2)%n]
        else:
            p0, p1, p2, p3 = p[max(k-1,0)], p[k], p[k+1], p[min(k+2,n-1)]
        verts += [p1+(p2-p0)/6, p2-(p3-p1)/6, p2]
        codes += [Path.CURVE4]*3
    return Path(verts, codes)

def draw_hist(ax, edges, heights, kde_x, kde_y, quant, xlim):
    mids = (np.array(edges[:-1]) + np.array(edges[1:])) / 2
    sns.histplot(x=mids, weights=heights, bins=edges, element='bars', fill=True, color='#e6e6e6', alpha=1, linewidth=0, ax=ax)
    sns.histplot(x=mids, weights=heights, bins=edges, element='step', fill=False, color='.5', linewidth=2.4, ax=ax)
    for q in quant:
        ax.axvline(q, color='.45', lw=1.9, ls=(0,(3.2,2.4)), zorder=4)
    ax.add_patch(PathPatch(smooth_path(list(zip(kde_x, kde_y)), False), fill=False, edgecolor='k', lw=2.2, zorder=5))
    ax.set_xlim(xlim); ax.set_ylim(0, 1)
    ax.set(xlabel='', ylabel='', xticks=[], yticks=[])

def draw_pair(ax, grid, loops, dots, xlim, ylim):
    xs, ys = xlim[1]-xlim[0], ylim[1]-ylim[0]
    # cells: rows 1/25.4 of the panel apart, same-row spacing 2/26 of the panel
    dx, dy = xs/26, ys/25.4
    hh, hs = dy*.667, dy*.333
    rows = [r.replace(' ','.').ljust(18,'.')[:18] for r in grid]
    verts, colors = [], []
    for j, row in enumerate(rows):
        for k in range(27):
            if (k+j) % 2 == 0:
                continue
            ch = row[min(int(k/26*18), 17)]
            if ch == '.':
                continue
            cx = xlim[0] + k*dx
            cy = ylim[1] - (j+.65)*dy
            verts.append([(cx-dx,cy-hs),(cx-dx,cy+hs),(cx,cy+hh),(cx+dx,cy+hs),(cx+dx,cy-hs),(cx,cy-hh)])
            colors.append(hex_grays[int(ch)])
    ax.add_collection(PolyCollection(verts, facecolors=colors, edgecolors='none', zorder=1))
    sx, sy = zip(*dots)
    sns.scatterplot(x=list(sx), y=list(sy), s=2.5, color='k', linewidth=0, alpha=.8, ax=ax, zorder=2)
    for loop in loops:
        ax.add_patch(PathPatch(smooth_path(loop, True), fill=False, edgecolor='#4d4d4d', alpha=.85, lw=2.2, zorder=3))
    ax.set_xlim(xlim); ax.set_ylim(ylim)
    ax.set(xlabel='', ylabel='', xticks=[], yticks=[])

hist_data = [(m_edges,m_hist,m_kde_x,m_kde_y,m_q),(a_edges,a_hist,a_kde_x,a_kde_y,a_q),(e_edges,e_hist,e_kde_x,e_kde_y,e_q),(i_edges,i_hist,i_kde_x,i_kde_y,i_q),(mass_edges,mass_hist,mass_kde_x,mass_kde_y,mass_q)]
pair_data = {(1,0):(ma_hex,ma_lines,ma_dots),(2,0):(me_hex,me_lines,me_dots),(2,1):(ae_hex,ae_lines,ae_dots),(3,0):(mi_hex,mi_lines,mi_dots),(3,1):(ai_hex,ai_lines,ai_dots),(3,2):(ei_hex,ei_lines,ei_dots),(4,0):(mm_hex,mm_lines,mm_dots),(4,1):(am_hex,am_lines,am_dots),(4,2):(em_hex,em_lines,em_dots),(4,3):(ii_hex,im_lines,im_dots)}

for r in range(5):
    for c in range(r+1):
        ax = make_axes(r, c)
        xv = variables[c]
        if r == c:
            draw_hist(ax, *hist_data[r], x_limits[xv])
            ax.set_title(titles[r], fontsize=19.5, pad=12)
        else:
            draw_pair(ax, *pair_data[(r,c)], x_limits[xv], y_limits[variables[r]])
        if r == 4:
            ax.set_xticks(ticks[xv])
            ax.set_xticklabels(tick_labels[xv], rotation=45, ha='right', va='top', rotation_mode='anchor')
            ax.text(.5, -.33, x_names[c], transform=ax.transAxes, fontsize=FS, ha='center', va='top', multialignment='center', linespacing=1.35, color='k', clip_on=False)
        if c == 0 and r > 0:
            yv = variables[r]
            ax.set_yticks(ticks[yv])
            ax.set_yticklabels(tick_labels[yv], rotation=45, ha='right', va='center', rotation_mode='anchor')
            ax.text(-.345, .5, y_names[yv], transform=ax.transAxes, fontsize=FS, rotation=90, ha='right', va='center', multialignment='center', linespacing=1.35, color='k', clip_on=False)

handle = Line2D([], [], color='.5', lw=2.4, label='HD91312_pma')
fig.legend(handles=[handle], loc='lower left', bbox_to_anchor=(1546/W, 1-1381/H), borderaxespad=0, fancybox=False, edgecolor='k', framealpha=1, fontsize=FS+.3, handlelength=1.45, handleheight=1.9, borderpad=.4, handletextpad=.4, labelcolor='k').get_frame().set_linewidth(1.5)

plt.savefig('out.png', dpi=100)
